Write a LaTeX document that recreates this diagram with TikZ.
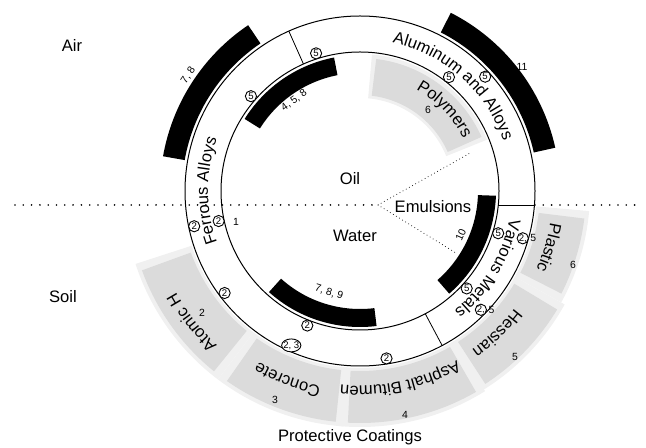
\documentclass[tikz,border=0pt]{standalone}
\usepackage{fontspec}
\setmainfont{Liberation Sans}
\usetikzlibrary{decorations.text,shapes.geometric}

\newcommand\lblfont{\fontsize{8.3}{9}\selectfont}
\newcommand\numfont{\fontsize{5.2}{6}\selectfont}
\newcommand\bubfont{\fontsize{4.8}{5}\selectfont}
% annular sector: angle1, angle2, inner r (px), outer r (px)
\newcommand\annsec[4]{({#1}:{#3}) arc[start angle={#1},end angle={#2},radius={(#3)*0.5pt}] -- ({#2}:{#4}) arc[start angle={#2},end angle={#1},radius={(#4)*0.5pt}] -- cycle}
% soft shaded coating region
\newcommand\coatsec[4]{\fill[coatsoft] \annsec{#1-2}{#2+2}{#3-3}{#4+4};\fill[coat] \annsec{#1}{#2}{#3}{#4};}
% clockwise text: centre angle, baseline radius (px), text
\newcommand\ringtext[3]{\path[decorate,decoration={text along path,text align=center,text={|\lblfont|#3}}] ({#1+55}:#2) arc[start angle={#1+55},end angle={#1-55},radius=#2*0.5pt];}

\begin{document}
\begin{tikzpicture}[x=0.5pt,y=0.5pt,
  ringline/.style={line width=0.5pt},
  divider/.style={line width=0.4pt},
  bubble/.style={circle,draw,fill=white,line width=0.45pt,inner sep=0pt,minimum size=5.6pt,font=\bubfont},
  bubblew/.style={ellipse,draw,fill=white,line width=0.45pt,inner xsep=-0.6pt,inner ysep=0.3pt,font=\bubfont},
  coat/.style={fill=black!14},
  coatsoft/.style={fill=black!6},
  bar/.style={fill=black},
  dotline/.style={dash pattern=on 0pt off 4.15pt,line cap=round,line width=0.9pt},
  finedots/.style={dash pattern=on 0pt off 1.8pt,line cap=round,line width=0.5pt},
  lbl/.style={font=\lblfont,inner sep=0pt},
  num/.style={font=\numfont,inner sep=0pt}]

\useasboundingbox (-360,-257) rectangle (286,191);

% protective coatings (outside) and polymers (inside)
\coatsec{200}{231}{180}{232}
\coatsec{235}{264}{180}{232}
\coatsec{267}{300}{180}{232}
\coatsec{303}{329}{180}{230}
\coatsec{333}{353}{180}{226}
\coatsec{24}{83}{96}{133}

% black bars
\fill[bar] \annsec{124}{170}{178}{200};
\fill[bar] \annsec{12.5}{63}{178}{200};
\fill[bar] \annsec{101}{148}{118}{136};
\fill[bar] \annsec{228}{277}{118}{136};
\fill[bar] \annsec{-49}{-2}{118}{136};

% dotted boundaries
\coordinate (ctr) at (18,-14);
\coordinate (dl) at (-345,-14);
\coordinate (dr1) at (175,-14);
\coordinate (dr2) at (280,-14);
\coordinate (eu) at (112,39);
\coordinate (ed) at (96,-62);
\draw[dotline] (dl) -- (ctr);
\draw[dotline] (dr1) -- (dr2);
\draw[finedots] (ctr) -- (eu);
\draw[finedots] (ctr) -- (ed);

% circles
\draw[ringline] (0,0) circle[radius=69.5pt];
\draw[ringline] (0,0) circle[radius=87.5pt];

% ring dividers
\draw[divider] (114:139) -- (114:175);
\draw[divider] (-62:139) -- (-62:175);
\draw[divider] (138.3,-14) -- (174.4,-14);

% bubbles on inner circle
\node[bubble] (b1) at (107.7:144.5) {5};
\node[bubble] (b2) at (139:144.5) {5};
\node[bubble] (b3) at (52:144.5) {5};
\node[bubble] (b4) at (192:144.5) {2};
\node[bubble] (b5) at (248.6:144.5) {2};
\node[bubble] (b6) at (-17:144.5) {5};
\node[bubble] (b7) at (-42.4:144.5) {5};
% bubbles on outer circle
\node[bubble] (b8) at (192:169.5) {2};
\node[bubble] (b9) at (217:169.5) {2};
\node[bubblew] (b10) at (246:169) {2, 3};
\node[bubble] (b11) at (279:169.5) {2};
\node[bubble] (b12) at (-16.2:169.5) {2,};
\node[bubble] (b13) at (-44.5:169.5) {2,};
\node[bubble] (b14) at (42.4:169.5) {5};
\node[num,anchor=west] (b12x) at ([xshift=0.6pt]b12.east) {5};
\node[num,anchor=west] (b13x) at ([xshift=0.6pt]b13.east) {5};
\node[num] (one) at (-124,-31) {1};

% curved labels
\ringtext{180}{152}{Ferrous Alloys}
\ringtext{48.5}{152}{Aluminum and Alloys}
\ringtext{-31}{152}{Various Metals}
\ringtext{44}{116}{Polymers}
\ringtext{-16.7}{193}{Plastic}
\ringtext{-46}{194}{Hessian}
\ringtext{282}{195}{Asphalt Bitumen}
\ringtext{249}{199}{Concrete}
\ringtext{218}{210}{Atomic H}

% bar labels
\node[num,rotate=56] (n78) at (146:207) {7, 8};
\node[num,rotate=36] (n458) at (126:112) {4, 5, 8};
\node[num,rotate=-17] (n789) at (253:106) {7, 8, 9};
\node[num,rotate=66] (n10) at (-23.6:110) {10};
\node[num] (n11) at (162,124) {11};

% coating numbers
\node[num] (c6p) at (68,81) {6};
\node[num] (c2) at (-158,-122) {2};
\node[num] (c3) at (-85,-209) {3};
\node[num] (c4) at (45,-224) {4};
\node[num] (c5) at (155,-166) {5};
\node[num] (c6) at (213,-74) {6};

% plain labels
\node[lbl] (air) at (-288,146) {Air};
\node[lbl] (soil) at (-297,-106) {Soil};
\node[lbl] (oil) at (-10,12) {Oil};
\node[lbl] (water) at (-5,-45) {Water};
\node[lbl] (emul) at (73,-16) {Emulsions};
\node[lbl] (prot) at (-10,-246) {Protective Coatings};
\end{tikzpicture}
\end{document}
